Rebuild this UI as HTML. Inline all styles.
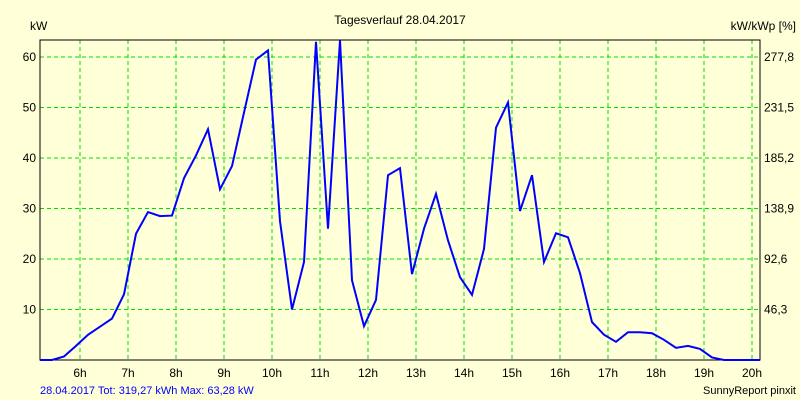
<!DOCTYPE html>
<html><head><meta charset="utf-8"><style>
body{margin:0;background:#ffffd8;}
svg{display:block;font-family:"Liberation Sans",sans-serif;}
</style></head><body>
<svg id="c" width="800" height="400">
<rect x="0" y="0" width="800" height="400" fill="#ffffd8"/>
<text x="400" y="24" font-size="12" text-anchor="middle">Tagesverlauf 28.04.2017</text>
<text x="30" y="30" font-size="12">kW</text>
<text x="796" y="30" font-size="12" text-anchor="end">kW/kWp [%]</text>
<g id="grid"></g>
<g id="axes"></g>
<polyline id="line" fill="none" stroke="#0000ff" stroke-width="2"/>
<text x="40" y="394" font-size="11" fill="#0000ff">28.04.2017 Tot: 319,27 kWh Max: 63,28 kW</text>
<text x="796" y="394" font-size="11" text-anchor="end">SunnyReport pinxit</text>
</svg>
<script>
const startHour = 5 + 10/60;
const stepHours = 0.25;
const powerKw = [0,0,0.7,2.8,5,6.6,8.2,13,25,29.3,28.5,28.6,36,40.5,45.7,33.8,38.4,49,59.5,61.3,27.5,10,19.4,63,26,63.3,15.8,6.7,11.9,36.6,38,17,26,32.9,23.7,16.4,12.9,22,46,51,29.5,36.6,19.4,25.1,24.3,17.2,7.5,5,3.6,5.5,5.5,5.3,4,2.4,2.8,2.2,0.5,0,0,0,0];
const hourTicks = [6,7,8,9,10,11,12,13,14,15,16,17,18,19,20];
const kwTicks = [10,20,30,40,50,60];
const pctLabels = ["46,3","92,6","138,9","185,2","231,5","277,8"];
const L=40,R=760,T=40,B=360;
const x = h => L + (h - startHour) * 48;
const y = v => B - v * 5.05;
const ns="http://www.w3.org/2000/svg";
const grid=document.getElementById('grid'), axes=document.getElementById('axes');
function mk(tag,attrs,parent){const e=document.createElementNS(ns,tag);for(const k in attrs)e.setAttribute(k,attrs[k]);parent.appendChild(e);return e;}
hourTicks.forEach(h=>{
  const l=mk('line',{x1:x(h),x2:x(h),y1:T,y2:B,stroke:'#00e000','stroke-dasharray':'4,3'},grid);
  
  
  const t=mk('text',{x:x(h),y:B+17,'font-size':12,'text-anchor':'middle'},axes);
  t.textContent=h+'h';
  
  
});
kwTicks.forEach((v,i)=>{
  const l=mk('line',{x1:L,x2:R,y1:y(v),y2:y(v),stroke:'#00e000','stroke-dasharray':'4,3'},grid);
  
  
  const t=mk('text',{x:L-4,y:y(v)+4,'font-size':12,'text-anchor':'end'},axes);
  t.textContent=v;
  
  
  const t2=mk('text',{x:R+4,y:y(v)+4,'font-size':12},axes);
  t2.textContent=pctLabels[i];
  
  
});
const fr=mk('rect',{x:L,y:T,width:R-L,height:B-T,fill:'none',stroke:'#000','stroke-width':1},axes);


document.getElementById('line').setAttribute('points',powerKw.map((v,i)=>x(startHour+i*stepHours)+','+Math.max(T,y(v))).join(' '));
</script>
</body></html>
